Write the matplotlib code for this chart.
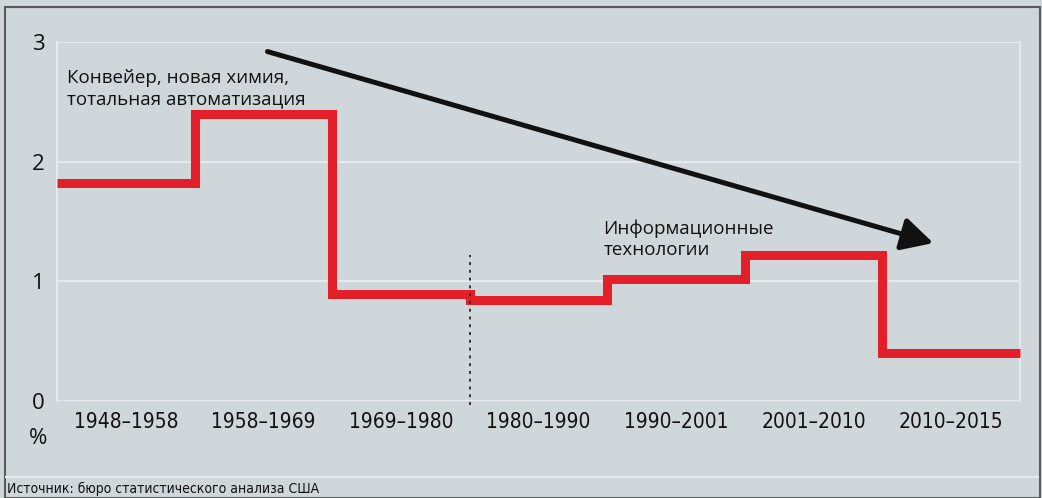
import matplotlib.pyplot as plt
from matplotlib.patches import Rectangle
from matplotlib.lines import Line2D

# ── Data ──────────────────────────────────────────────────────────────────────
periods = ["1948–1958", "1958–1969", "1969–1980", "1980–1990",
           "1990–2001", "2001–2010", "2010–2015"]
growth = [1.82, 2.4, 0.89, 0.84, 1.02, 1.22, 0.4]
yticks = [0, 1, 2, 3]

BG = "#cfd7db"
GRID = "#e6eaec"
RED = "#e3202a"

plt.rcParams["font.family"] = ["Open Sans", "DejaVu Sans"]
NARROW = dict(family="DejaVu Sans", stretch="condensed")

fig = plt.figure(figsize=(10.42, 4.98), dpi=100, facecolor=BG)
W, H = 1042, 498
ax = fig.add_axes([57 / W, 1 - 401 / H, (1020 - 57) / W, (401 - 42) / H])
ax.set_facecolor(BG)

# step line
xs, ys = [], []
for i, v in enumerate(growth):
    xs += [i, i + 1]
    ys += [v, v]
ax.plot(xs, ys, color=RED, linewidth=6.5, solid_joinstyle="miter",
        solid_capstyle="butt", zorder=3, clip_on=False)

ax.set_xlim(0, len(periods))
ax.set_ylim(0, 3)

for y in yticks:
    ax.axhline(y, color=GRID, linewidth=1.5, zorder=1)

for s in ["left", "right"]:
    ax.spines[s].set_color(GRID)
    ax.spines[s].set_linewidth(1.5)
for s in ["top", "bottom"]:
    ax.spines[s].set_visible(False)

ax.set_yticks(yticks)
ax.set_yticklabels([str(y) for y in yticks], fontsize=16, color="#111111")
ax.set_xticks([i + 0.5 for i in range(len(periods))])
ax.set_xticklabels(periods, fontsize=15, color="#111111", **NARROW)
ax.tick_params(axis="both", length=0)
ax.tick_params(axis="y", pad=9)
ax.tick_params(axis="x", pad=8)

# dotted divider
ax.plot([3, 3], [-0.03, 1.22], color="#333333", linestyle=(0, (1.5, 2.5)),
        linewidth=1.4, zorder=4, clip_on=False)

# trend arrow
ax.annotate("", xy=(6.37, 1.32), xytext=(1.53, 2.92),
            arrowprops=dict(arrowstyle="-|>,head_length=1.9,head_width=1.0",
                            color="#111111", linewidth=3.6,
                            shrinkA=0, shrinkB=0),
            annotation_clip=False, zorder=5)

ax.text(0.07, 2.61, "Конвейер, новая химия,\nтотальная автоматизация",
        fontsize=13.5, color="#111111", va="center", ha="left",
        linespacing=1.2)
ax.text(3.97, 1.35, "Информационные\nтехнологии",
        fontsize=13.5, color="#111111", va="center", ha="left",
        linespacing=1.2)

fig.text(38 / W, 1 - 438 / H, "%", fontsize=16, ha="center", va="center",
         color="#111111")

# frame and source line
fig.add_artist(Rectangle((5 / W, 0), (1040 - 5) / W, 1 - 7 / H,
                         transform=fig.transFigure, fill=False,
                         edgecolor="#5a5a5a", linewidth=1.5))
fig.add_artist(Line2D([6 / W, 1038 / W], [1 - 477 / H, 1 - 477 / H],
                      transform=fig.transFigure, color=GRID, linewidth=1.5))
fig.text(7 / W, 1 - 489 / H, "Источник: бюро статистического анализа США",
         fontsize=10, ha="left", va="center", color="#111111", **NARROW)

fig.savefig("out.png", dpi=100, facecolor=BG)
